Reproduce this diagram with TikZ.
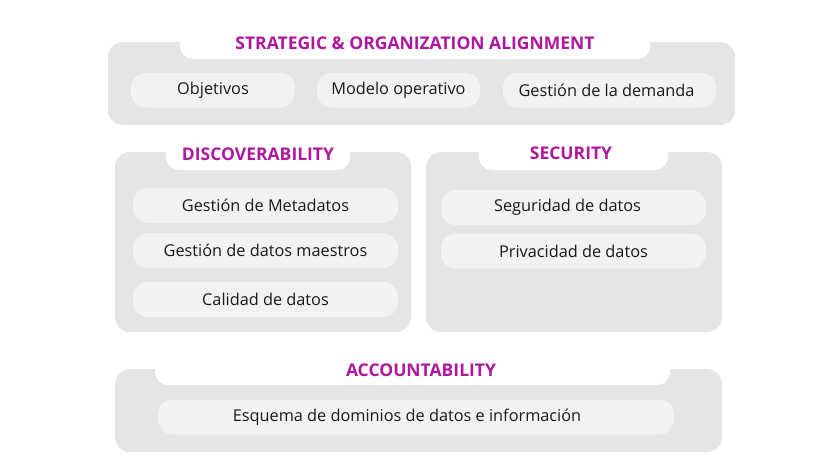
\documentclass[tikz,border=0pt]{standalone}
\usepackage{fontspec}
\setmainfont{Open Sans}
\definecolor{panelgray}{HTML}{E4E5E4}
\definecolor{pillgray}{HTML}{F2F2F2}
\definecolor{titlemag}{HTML}{B0179F}
\newcommand{\panel}[4]
{   \fill[panelgray, rounded corners=15pt] (#1,#2) rectangle (#3,#4);
}
\newcommand{\tab}[4]
{   \fill[white, rounded corners=13pt] (#1,#2) rectangle (#3,#4);
}
\tikzset{
  pill/.style={fill=pillgray, rounded corners=15pt, minimum height=35pt, inner sep=0pt,
    text=black!90, font=\fontsize{16.3}{19}\selectfont},
  title/.style={text=titlemag, font=\bfseries\fontsize{17.5}{20}\selectfont},
}

\begin{document}
\begin{tikzpicture}[x=1pt, y=-1pt]
 \useasboundingbox (0,0) rectangle (830,467);

 % strategic
 \panel{108}{42}{735}{125}
 \tab{180}{28}{650}{59}
 \node[title] (strat) at (415,43) {STRATEGIC \& ORGANIZATION ALIGNMENT};
 \node[pill, minimum width=164pt] (obj) at (213,90) {Objetivos};
 \node[pill, minimum width=163pt] (modelo) at (398.5,90) {Modelo operativo};
 \node[pill, minimum width=213pt, label={[pill, fill=none, xshift=-3pt]center:Gestión de la demanda}] (demanda) at (609.5,90) {};

 % discoverability
 \panel{115}{152}{411}{332}
 \tab{166}{138}{350}{170}
 \node[title] (disc) at (258,154) {DISCOVERABILITY};
 \node[pill, minimum width=265pt] (meta) at (265.5,205.5) {Gestión de Metadatos};
 \node[pill, minimum width=265pt] (maestros) at (265.5,250.5) {Gestión de datos maestros};
 \node[pill, minimum width=265pt] (calidad) at (265.5,299.5) {Calidad de datos};

 % security
 \panel{426}{152}{722}{332}
 \tab{479}{138}{668}{170}
 \node[title] (sec) at (571,153) {SECURITY};
 \node[pill, minimum width=265pt, label={[pill, fill=none, xshift=-6pt]center:Seguridad de datos}] (seguridad) at (573.5,207.5) {};
 \node[pill, minimum width=265pt] (privacidad) at (573.5,251) {Privacidad de datos};

 % accountability
 \panel{115}{369}{722}{452}
 \tab{155}{355}{670}{385}
 \node[title] (acc) at (421,370) {ACCOUNTABILITY};
 \node[pill, minimum width=516pt, label={[pill, fill=none, xshift=-9pt]center:Esquema de dominios de datos e información}] (esquema) at (416,417) {};

\end{tikzpicture}
\end{document}
